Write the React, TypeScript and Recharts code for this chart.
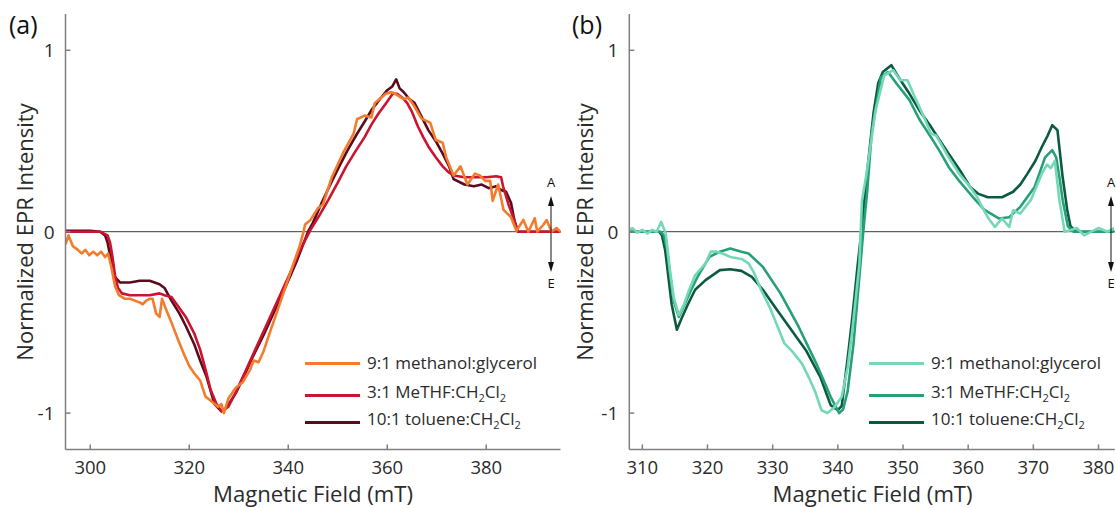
import React from 'react';
import { LineChart, Line, XAxis, YAxis, ReferenceLine, Legend } from 'recharts';

const FONT = '"Open Sans", "Noto Sans", sans-serif';

// panel (a) - copper complex, 3 solvents
const aMethanolField = [295, 295.6, 296.5, 297.5, 298.3, 299, 299.8, 300.6, 301.4, 302.2, 303, 303.6, 304.3, 305, 305.8, 307, 308, 309, 310, 310.6, 311.3, 312, 312.6, 313.3, 314, 314.5, 315.2, 316.4, 317.8, 319, 320, 321, 322.2, 323.3, 324.3, 325.8, 326.5, 327, 327.9, 329.4, 330.8, 332.3, 333, 334, 335, 336.6, 338, 339.5, 341, 342.3, 343.1, 343.4, 344.5, 346, 347, 348.8, 351, 353.2, 353.9, 355.4, 356.8, 357.5, 359.7, 360.9, 362.2, 363.3, 364.3, 365.5, 366.9, 368.7, 369.8, 371.2, 371.9, 373.4, 374.8, 376.2, 377.7, 378.7, 379.8, 380.8, 381.3, 382.4, 383.5, 385, 386.1, 387.5, 388.5, 389.8, 390.3, 391.5, 392.2, 393.2, 394.2, 395];
const aMethanolIntensity = [-0.07, -0.02, -0.08, -0.1, -0.12, -0.1, -0.13, -0.11, -0.13, -0.11, -0.14, -0.12, -0.2, -0.3, -0.35, -0.37, -0.37, -0.38, -0.39, -0.4, -0.38, -0.37, -0.37, -0.45, -0.47, -0.37, -0.42, -0.5, -0.6, -0.68, -0.74, -0.78, -0.82, -0.91, -0.93, -0.965, -0.95, -1.0, -0.92, -0.86, -0.83, -0.76, -0.71, -0.72, -0.66, -0.53, -0.42, -0.3, -0.18, -0.08, 0.0, 0.04, 0.065, 0.13, 0.15, 0.3, 0.43, 0.54, 0.62, 0.64, 0.63, 0.71, 0.76, 0.77, 0.75, 0.73, 0.74, 0.69, 0.625, 0.6, 0.505, 0.49, 0.41, 0.31, 0.36, 0.26, 0.32, 0.31, 0.28, 0.28, 0.17, 0.26, 0.12, 0.08, 0.005, 0.065, 0, 0.074, 0, 0.037, 0.064, 0, 0.02, 0];

const aMeTHFField = [295, 302, 303.5, 304, 304.5, 305, 305.6, 306.4, 308, 310, 312, 314, 315, 316.4, 318, 319.3, 321, 322.2, 323.3, 324.3, 325.5, 326.5, 327.9, 329.5, 331, 333, 335, 337, 339, 341, 342.4, 344.5, 346.3, 348.1, 350, 351.7, 353.5, 355.4, 356.8, 358.2, 359.8, 361.1, 362, 363, 364, 365, 366.2, 367.3, 368.3, 369.8, 371.2, 372.3, 373.4, 375.6, 378, 380, 382, 383, 383.4, 384.5, 385.7, 386.4, 390, 395];
const aMeTHFIntensity = [0, 0, -0.02, -0.06, -0.14, -0.24, -0.31, -0.34, -0.35, -0.35, -0.35, -0.34, -0.35, -0.36, -0.42, -0.47, -0.56, -0.65, -0.76, -0.87, -0.95, -0.99, -0.965, -0.88, -0.79, -0.67, -0.55, -0.43, -0.31, -0.19, -0.1, 0.01, 0.09, 0.175, 0.27, 0.36, 0.44, 0.52, 0.59, 0.65, 0.71, 0.76, 0.76, 0.74, 0.71, 0.66, 0.58, 0.52, 0.47, 0.41, 0.36, 0.33, 0.31, 0.3, 0.3, 0.3, 0.306, 0.3, 0.25, 0.15, 0.06, 0, 0, 0];

const aTolueneField = [295, 300, 302, 303, 303.5, 304, 304.5, 305, 306, 308, 310, 312, 314, 315, 316.4, 318, 319.3, 321, 322.2, 323.5, 325.1, 326.5, 327.5, 329.4, 331, 333, 335, 337, 339.5, 341.6, 344, 345, 346.7, 348.5, 350.3, 352, 353.9, 355.5, 356.8, 358.5, 360, 361, 361.8, 362.5, 363.3, 364.5, 365.5, 367, 368.3, 370, 371.2, 372.5, 373.4, 375.6, 377.5, 379.1, 380.5, 382, 383, 384, 385, 385.7, 386.4, 390, 395];
const aTolueneIntensity = [0.005, 0.005, 0, -0.02, -0.06, -0.13, -0.2, -0.25, -0.28, -0.28, -0.27, -0.27, -0.29, -0.31, -0.38, -0.45, -0.52, -0.62, -0.71, -0.8, -0.95, -0.99, -0.97, -0.89, -0.8, -0.68, -0.57, -0.45, -0.3, -0.17, 0, 0.05, 0.156, 0.26, 0.36, 0.45, 0.54, 0.61, 0.67, 0.73, 0.78, 0.8, 0.84, 0.79, 0.77, 0.73, 0.71, 0.63, 0.56, 0.49, 0.43, 0.36, 0.29, 0.26, 0.25, 0.26, 0.24, 0.25, 0.23, 0.22, 0.16, 0.06, 0, 0, 0];

// panel (b)
const bMethanolField = [308, 308.5, 309.2, 310, 310.8, 311.5, 312.2, 312.9, 313.6, 314.2, 314.8, 315.6, 316.4, 317.2, 318.1, 319.7, 320.5, 321.4, 322.3, 323.5, 325.2, 326.3, 327.2, 328.2, 329.6, 330.5, 331.8, 333, 334.5, 335.5, 336.5, 337.5, 338.4, 339.5, 340.6, 341.5, 342.2, 343.3, 343.7, 344.4, 345.8, 347.1, 348.5, 349.6, 350.7, 351.8, 353.2, 354.3, 355.1, 357, 358.6, 360.3, 361.4, 362.1, 363, 364.1, 365.2, 366.3, 366.9, 368, 369.6, 371.3, 372.1, 372.7, 373.3, 374, 374.8, 375.8, 376.7, 377.8, 378.9, 380, 381.4, 382.4];
const bMethanolIntensity = [0.01, 0.02, -0.005, 0.01, -0.01, 0.01, 0.0, 0.054, -0.01, -0.2, -0.36, -0.46, -0.4, -0.32, -0.24, -0.175, -0.11, -0.11, -0.12, -0.139, -0.15, -0.175, -0.23, -0.32, -0.42, -0.5, -0.616, -0.66, -0.727, -0.8, -0.88, -0.984, -1.0, -0.966, -0.91, -0.75, -0.55, -0.18, 0.17, 0.32, 0.67, 0.86, 0.89, 0.835, 0.835, 0.743, 0.633, 0.54, 0.53, 0.41, 0.32, 0.247, 0.19, 0.138, 0.08, 0.026, 0.073, 0.026, 0.118, 0.1, 0.174, 0.32, 0.37, 0.35, 0.39, 0.174, 0.0, 0.01, 0.02, -0.02, 0, 0.02, 0, 0.02];

const bMeTHFField = [308, 311, 312.8, 313.3, 313.8, 314.3, 314.8, 315.6, 316.5, 317.5, 318.6, 320.3, 321.9, 323.5, 325.2, 326.3, 328.5, 331.2, 334, 336.7, 338.9, 340.2, 340.8, 341.5, 342.4, 343.3, 343.9, 344.5, 345.2, 346.6, 347.7, 349, 351, 352.5, 354.3, 355.7, 357, 358.4, 359.8, 361, 362.5, 364.7, 366.3, 368, 370.2, 371.8, 372.9, 373.5, 374, 374.5, 375.3, 376.2, 380, 382.4];
const bMeTHFIntensity = [0, 0, 0, -0.02, -0.1, -0.25, -0.38, -0.47, -0.4, -0.32, -0.24, -0.139, -0.11, -0.093, -0.11, -0.12, -0.194, -0.34, -0.525, -0.727, -0.91, -1.0, -0.98, -0.88, -0.62, -0.25, 0, 0.22, 0.55, 0.85, 0.88, 0.817, 0.725, 0.62, 0.52, 0.44, 0.357, 0.29, 0.23, 0.18, 0.12, 0.073, 0.08, 0.137, 0.247, 0.41, 0.45, 0.41, 0.3, 0.174, 0.03, 0, 0, 0];

const bTolueneField = [308, 311, 312.6, 313, 313.5, 314, 314.5, 315.3, 316, 317, 318.1, 319.7, 321.9, 323.5, 325.2, 326.8, 328.5, 330.7, 332.9, 335.1, 337.3, 338.9, 340, 340.6, 341.5, 342.2, 343, 343.6, 344.5, 345.5, 346.2, 346.9, 348.2, 349.3, 351, 352.5, 354.3, 355.7, 357, 358.7, 360.3, 361.5, 363, 365.2, 366.9, 368, 369.1, 370.3, 371.3, 372.2, 372.9, 373.7, 374.5, 375.2, 375.7, 376.5, 380, 382.4];
const bTolueneIntensity = [0, 0, 0, -0.02, -0.1, -0.25, -0.4, -0.54, -0.48, -0.4, -0.32, -0.267, -0.212, -0.207, -0.216, -0.249, -0.32, -0.433, -0.543, -0.653, -0.8, -0.956, -0.984, -0.96, -0.7, -0.48, -0.2, 0, 0.33, 0.66, 0.82, 0.88, 0.918, 0.853, 0.76, 0.67, 0.578, 0.5, 0.43, 0.34, 0.247, 0.21, 0.19, 0.19, 0.22, 0.26, 0.32, 0.39, 0.467, 0.53, 0.587, 0.56, 0.3, 0.12, 0.03, 0, 0, 0];

const aTicks = [300, 320, 340, 360, 380];
const bTicks = [310, 320, 330, 340, 350, 360, 370, 380];
const yTicks = [-1, 0, 1];

const aColors = ['#F47B2B', '#CC1431', '#5C0B1D'];
const bColors = ['#74D8B8', '#26A078', '#0C5B40'];

const AXIS_GREY = '#808080';
const LABEL_GREY = '#2b2b2b';

const zip = (xs: number[], ys: number[]) => xs.map((x, i) => ({ field: x, value: ys[i] }));

const legendRowsTop = [18, 50, 77];

const LegendLabel = ({ i }: { i: number }) => {
  if (i === 0) return <span>9:1 methanol:glycerol</span>;
  if (i === 1) return <span>3:1 MeTHF:CH<sub style={{ fontSize: 11 }}>2</sub>Cl<sub style={{ fontSize: 11 }}>2</sub></span>;
  return <span>10:1 toluene:CH<sub style={{ fontSize: 11 }}>2</sub>Cl<sub style={{ fontSize: 11 }}>2</sub></span>;
};

const renderLegend = (colors: string[]) => () => (
  <div style={{ position: 'relative', width: 260, height: 100, fontFamily: FONT, fontSize: 17, color: LABEL_GREY }}>
    {colors.map((c, i) => (
      <div key={i} style={{ position: 'absolute', left: 0, top: legendRowsTop[i] - 12, height: 24, display: 'flex', alignItems: 'center', whiteSpace: 'nowrap', lineHeight: '24px' }}>
        <div style={{ width: 55, height: 3, background: c, marginRight: 7 }} />
        <LegendLabel i={i} />
      </div>
    ))}
  </div>
);

// ticks point into the plot (matlab style), label sits outside
const XTick = (props: any) => {
  const { x, y, payload } = props;
  return (
    <g>
      <line x1={x} y1={y} x2={x} y2={y - 5} stroke={AXIS_GREY} strokeWidth={1.5} />
      <text x={x} y={y + 25} textAnchor="middle" fontSize={18.5} fontFamily={FONT} fill={LABEL_GREY}>{payload.value}</text>
    </g>
  );
};

const YTick = (props: any) => {
  const { x, y, payload } = props;
  return (
    <g>
      <line x1={x} y1={y} x2={x + 5} y2={y} stroke={AXIS_GREY} strokeWidth={1.5} />
      <text x={x - 11} y={y + 7} textAnchor="end" fontSize={19} fontFamily={FONT} fill={LABEL_GREY}>{payload.value}</text>
    </g>
  );
};

interface PanelProps {
  left: number;
  width: number;
  marginLeft: number;
  marginRight: number;
  domain: [number, number];
  ticks: number[];
  series: { field: number; value: number }[][];
  colors: string[];
  legendLeft: number;
}

const Y_AXIS_W = 40;
const X_AXIS_H = 30;

function Panel({ left, width, marginLeft, marginRight, domain, ticks, series, colors, legendLeft }: PanelProps) {
  const axisStyle = { stroke: AXIS_GREY, strokeWidth: 1.5 };
  // draw toluene first so methanol ends on top
  const order = [2, 1, 0];
  return (
    <div style={{ position: 'absolute', left, top: 0 }}>
      <LineChart width={width} height={508}
        margin={{ top: 14, right: marginRight, bottom: 58.6 - X_AXIS_H, left: marginLeft - Y_AXIS_W }}>
        <XAxis type="number" dataKey="field" domain={domain} ticks={ticks} interval={0} allowDataOverflow
          height={X_AXIS_H} tickSize={0} tickMargin={0} axisLine={axisStyle} tickLine={false}
          tick={<XTick />} />
        <YAxis type="number" domain={[-1.2, 1.2]} ticks={yTicks} interval={0} width={Y_AXIS_W}
          tickSize={0} tickMargin={0} axisLine={axisStyle} tickLine={false}
          tick={<YTick />} />
        <ReferenceLine y={0} stroke="#3c3c3c" strokeWidth={1} />
        {order.map((k) => (
          <Line key={k} data={series[k]} dataKey="value" type="linear" stroke={colors[k]} strokeWidth={2.6}
            dot={false} isAnimationActive={false} strokeLinejoin="round" />
        ))}
        <Legend layout="vertical" align="center" verticalAlign="middle" content={renderLegend(colors)}
          wrapperStyle={{ left: legendLeft, top: 345, width: 260 }} />
      </LineChart>
    </div>
  );
}

function Arrow({ x }: { x: number }) {
  return (
    <g>
      <text x={x} y={187} textAnchor="middle" fontSize={13} fill="#111">A</text>
      <line x1={x} y1={200} x2={x} y2={268} stroke="#111" strokeWidth={1} />
      <polygon points={`${x},196 ${x - 3},206 ${x + 3},206`} fill="#111" />
      <polygon points={`${x},272 ${x - 3},262 ${x + 3},262`} fill="#111" />
      <text x={x} y={288} textAnchor="middle" fontSize={13} fill="#111">E</text>
    </g>
  );
}

export default function App() {
  const aSeries = [zip(aMethanolField, aMethanolIntensity), zip(aMeTHFField, aMeTHFIntensity), zip(aTolueneField, aTolueneIntensity)];
  const bSeries = [zip(bMethanolField, bMethanolIntensity), zip(bMeTHFField, bMeTHFIntensity), zip(bTolueneField, bTolueneIntensity)];
  return (
    <div style={{ position: 'absolute', left: 0, top: 0, width: 1116, height: 508, background: '#fff', overflow: 'hidden' }}>
      <Panel left={0} width={570} marginLeft={65.5} marginRight={9.5} domain={[295, 395]} ticks={aTicks}
        series={aSeries} colors={aColors} legendLeft={305} />
      <Panel left={560} width={556} marginLeft={69.3} marginRight={1.2} domain={[308, 382.5]} ticks={bTicks}
        series={bSeries} colors={bColors} legendLeft={309} />
      <svg width={1116} height={508} style={{ position: 'absolute', left: 0, top: 0, pointerEvents: 'none' }} fontFamily={FONT}>
        <text x={9} y={34} fontSize={25} fill="#111">(a)</text>
        <text x={572} y={34} fontSize={25} fill="#111">(b)</text>
        <text transform="translate(33,232) rotate(-90)" textAnchor="middle" fontSize={22} fill={LABEL_GREY}>Normalized EPR Intensity</text>
        <text transform="translate(593,232) rotate(-90)" textAnchor="middle" fontSize={22} fill={LABEL_GREY}>Normalized EPR Intensity</text>
        <text x={313} y={502} textAnchor="middle" fontSize={21} textLength={200} lengthAdjust="spacingAndGlyphs" fill={LABEL_GREY}>Magnetic Field (mT)</text>
        <text x={872.6} y={502} textAnchor="middle" fontSize={21} textLength={200} lengthAdjust="spacingAndGlyphs" fill={LABEL_GREY}>Magnetic Field (mT)</text>
        <Arrow x={551} />
        <Arrow x={1111} />
      </svg>
    </div>
  );
}
